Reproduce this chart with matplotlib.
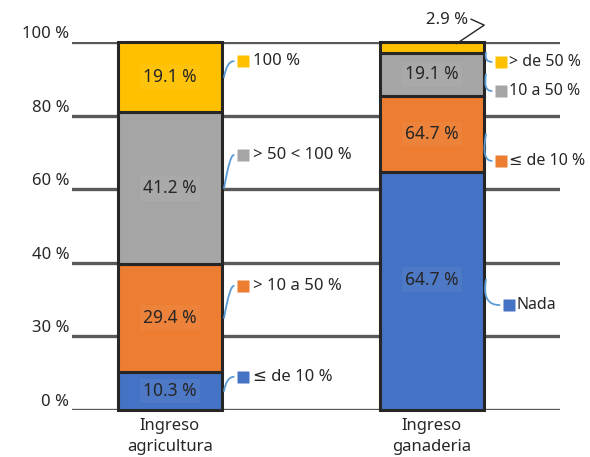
import matplotlib.pyplot as plt
import numpy as np
from matplotlib.transforms import ScaledTranslation

plt.rcParams['font.family'] = ['Noto Sans', 'DejaVu Sans']

# datos
categorias = ['Ingreso\nagricultura', 'Ingreso\nganaderia']
agricultura = [10.3, 29.4, 41.2, 19.1]
ganaderia = [64.7, 20.6, 11.8, 2.9]
etiquetas_agri = ['10.3 %', '29.4 %', '41.2 %', '19.1 %']
etiquetas_gan = ['64.7 %', '64.7 %', '19.1 %', '2.9 %']
series_agri = ['≤ de 10 %', '> 10 a 50 %', '> 50 < 100 %', '100 %']
series_gan = ['Nada', '≤ de 10 %', '10 a 50 %', '> de 50 %']
yticks = [0, 20, 40, 60, 80, 100]
ytick_labels = ['0 %', '30 %', '40 %', '60 %', '80 %', '100 %']

colores = ['#4472c4', '#ed7d31', '#a5a5a5', '#ffc000']
borde = '#262626'
azul_guia = '#5b9bd5'

# posiciones de los nombres de serie (y en unidades de datos)
pos_nombres = [[9.0, 33.7, 69.3, 94.8], [28.5, 67.7, 86.7, 94.6]]
ancho = 0.397
fs = 12

fig = plt.figure(figsize=(5.9, 4.57), dpi=100)
ax = fig.add_axes([0.122, 0.103, 0.827, 0.805])

for i, (vals, etqs, nombres) in enumerate([(agricultura, etiquetas_agri, series_agri),
                                            (ganaderia, etiquetas_gan, series_gan)]):
    base = np.concatenate([[0], np.cumsum(vals)[:-1]])
    for j, v in enumerate(vals):
        ax.bar(i, v, bottom=base[j], width=ancho, color=colores[j],
               edgecolor=borde, linewidth=2.2, zorder=3, clip_on=False)
        yc = base[j] + v / 2
        if i == 1 and j == 0:
            yc += 3
        if i == 1 and j == 3:
            # etiqueta fuera de la barra con linea guia
            ax.text(i + 0.057, 106, etqs[j], ha='center', va='center',
                    fontsize=fs, color=borde, zorder=5)
            ax.plot([i + 0.15, i + 0.2, i + 0.095], [106.2, 104.6, 99.6],
                    color=borde, lw=1, clip_on=False, zorder=5)
            yc = base[j] + v / 2 - 1.5
        else:
            ax.text(i, yc, etqs[j], ha='center', va='center', fontsize=12.5,
                    color=borde, zorder=5,
                    bbox=dict(boxstyle='square,pad=0.2', fc='white',
                              alpha=0.05, ec='none'))
        # nombre de serie con cuadro de color
        xs = i + ancho / 2 + (0.08 if i == 0 else 0.065)
        if i == 1 and j == 0:
            xs = i + ancho / 2 + 0.095
        yn = pos_nombres[i][j]
        ax.plot(xs, yn, marker='s', ms=8, color=colores[j], mec='none',
                clip_on=False, zorder=5)
        ax.text(xs + (0.04 if i == 0 else 0.03), yn, nombres[j], ha='left',
                va='center', fontsize=fs if i == 0 else 11.5, color=borde,
                zorder=5)
        ax.annotate('', xy=(i + ancho / 2 + 0.008, yc),
                    xytext=(xs - 0.035, yn),
                    arrowprops=dict(arrowstyle='-', color=azul_guia, lw=1.3,
                                    connectionstyle='angle3,angleA=0,angleB=80',
                                    shrinkA=0, shrinkB=0),
                    annotation_clip=False, zorder=4)

for y in yticks:
    ax.axhline(y, color='#595959', lw=2.4, zorder=1)

ax.set_xlim(-0.374, 1.489)
ax.set_ylim(0, 100)
ax.set_xticks([0, 1])
ax.set_xticklabels(categorias, fontsize=fs, color=borde, linespacing=1.4)
ax.set_yticks(yticks)
ax.set_yticklabels(ytick_labels, fontsize=fs, color=borde)
ax.tick_params(length=0, pad=2)
ax.tick_params(axis='x', pad=6)
for lab in ax.get_yticklabels():
    lab.set_transform(lab.get_transform() + ScaledTranslation(0, 10 / 100, fig.dpi_scale_trans))
for s in ax.spines.values():
    s.set_visible(False)

fig.savefig('out.png', dpi=100)
